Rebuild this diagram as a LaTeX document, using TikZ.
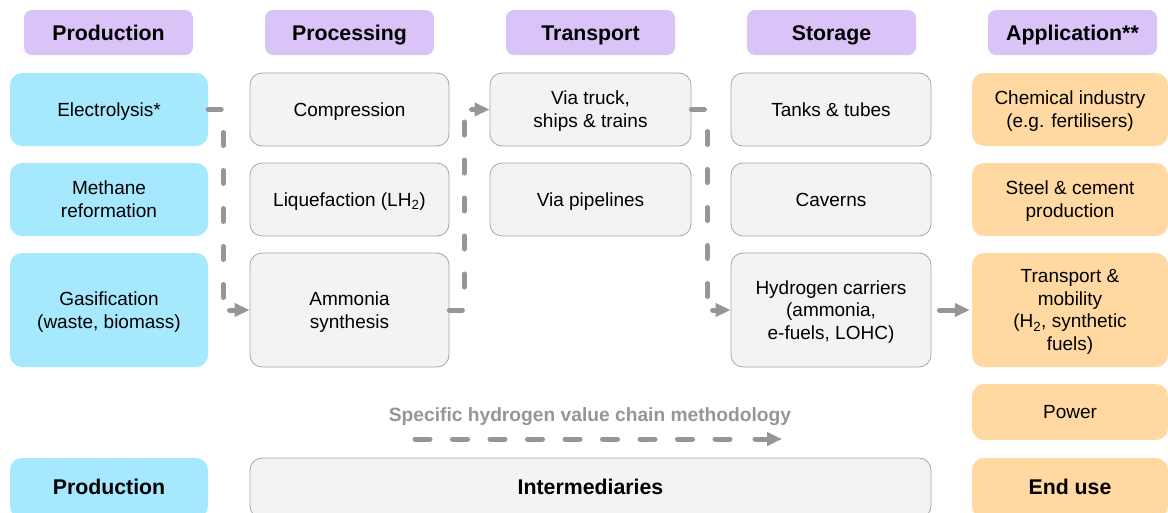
\documentclass[tikz,border=0pt]{standalone}
\usepackage{fontspec}
\setmainfont{Liberation Sans}
\usetikzlibrary{arrows.meta}
\definecolor{purp}{RGB}{217,195,247}
\definecolor{bluef}{RGB}{166,232,253}
\definecolor{orangef}{RGB}{255,217,161}
\definecolor{grayf}{RGB}{243,243,243}
\definecolor{grayd}{RGB}{165,165,165}
\definecolor{conn}{RGB}{150,150,150}
\tikzset{
  basebox/.style={rectangle, rounded corners=12pt, inner sep=0pt, align=center,
    font=\fontsize{19}{22.8}\selectfont, text depth=0pt},
  one/.style={text height=13.6pt, text depth=0pt},
  header/.style={basebox, rounded corners=8pt, fill=purp, minimum width=169pt,
    minimum height=45pt, font=\fontsize{21.3}{25}\selectfont\bfseries,
    text height=15.3pt, text depth=0pt},
  boldtext/.style={font=\fontsize{21.3}{25}\selectfont\bfseries, inner sep=0pt,
    text height=15.3pt, text depth=0pt},
  bluebox/.style={basebox, fill=bluef},
  orangebox/.style={basebox, fill=orangef},
  graybox/.style={basebox, fill=grayf, draw=grayd, line width=0.8pt},
  r1/.style={minimum height=73pt},
  r2/.style={minimum height=73pt},
  r3/.style={minimum height=114pt},
  cA/.style={minimum width=198pt},
  cB/.style={minimum width=199pt},
  cC/.style={minimum width=201pt},
  cD/.style={minimum width=200pt},
  cE/.style={minimum width=196pt},
  flow/.style={draw=conn, line width=5pt, line cap=round,
    dash pattern=on 13pt off 25pt},
  tip/.style={draw=conn, line width=5pt, line cap=round,
    -{Triangle[length=15pt,width=13pt,fill=conn]}},
}
\begin{document}
\begin{tikzpicture}[x=1pt,y=-1pt]
\useasboundingbox (0,0) rectangle (1168,512);
\clip (0,0) rectangle (1168,512);
% headers
\node[header] (hprod) at (108.5,32.5) {Production};
\node[header] (hproc) at (349.5,32.5) {Processing};
\node[header] (htran) at (590.5,32.5) {Transport};
\node[header] (hstor) at (831.5,32.5) {Storage};
\node[header] (happ) at (1072.5,32.5) {Application**};
% production
\node[bluebox,cA,r1,one] (elec) at (109,109.5) {Electrolysis*};
\node[bluebox,cA,r2] (meth) at (109,199.5) {Methane\\reformation};
\node[bluebox,cA,r3] (gasi) at (109,310) {Gasification\\(waste, biomass)};
% processing
\node[graybox,cB,r1,one] (comp) at (349.5,109.5) {Compression};
\node[graybox,cB,r2,one] (liq) at (349.5,199.5) {Liquefaction (LH\textsubscript{2})};
\node[graybox,cB,r3] (amm) at (349.5,310) {Ammonia\\synthesis};
% transport
\node[graybox,cC,r1] (truck) at (590.5,109.5) {Via truck,\\ships \& trains};
\node[graybox,cC,r2,one] (pipe) at (590.5,199.5) {Via pipelines};
% storage
\node[graybox,cD,r1,one] (tank) at (831,109.5) {Tanks \& tubes};
\node[graybox,cD,r2,one] (cav) at (831,199.5) {Caverns};
\node[graybox,cD,r3] (carr) at (831,310) {Hydrogen carriers\\(ammonia,\\e-fuels, LOHC)};
% application
\node[orangebox,cE,r1] (chem) at (1070,109.5) {Chemical industry\\(e.g. fertilisers)};
\node[orangebox,cE,r2] (steel) at (1070,199.5) {Steel \& cement\\production};
\node[orangebox,cE,r3] (mob) at (1070,310) {Transport \&\\mobility\\(H\textsubscript{2}, synthetic\\fuels)};
\node[orangebox,cE,one,minimum height=56pt] (power) at (1070,412) {Power};
% bottom row
\node[bluebox,cA,minimum height=60pt] (bprod) at (109,488) {};
\node[boldtext] (bprodt) at (109,487) {Production};
\node[graybox,minimum width=681pt,minimum height=60pt] (inter) at (590.5,488) {};
\node[boldtext] (intert) at (590.5,487) {Intermediaries};
\node[orangebox,cE,minimum height=60pt] (endu) at (1070,488) {};
\node[boldtext] (endut) at (1070,487) {End use};
% connectors
\draw[flow] (elec.east) -- ++(15,0) |- ([xshift=-24pt]amm.west);
\draw[tip] ([xshift=-20pt]amm.west) -- (amm.west);
\draw[flow] (amm.east) -- ++(15,0) |- ([xshift=-23pt]truck.west);
\draw[tip] ([xshift=-18pt]truck.west) -- (truck.west);
\draw[flow] (truck.east) -- ++(16,0) |- ([xshift=-22pt]carr.west);
\draw[tip] ([xshift=-18pt]carr.west) -- (carr.west);
\draw[tip, shorten <=8pt, shorten >=2pt] (carr.east) -- (mob.west);
% legend
\node[text=conn, font=\fontsize{19.2}{23}\selectfont\bfseries] (leg) at (590,417) {Specific hydrogen value chain methodology};
\coordinate (ls) at (415,439);
\coordinate (le) at (782,439);
\draw[flow, dash pattern=on 15pt off 22.5pt] (ls) -- ([xshift=-35pt]le);
\draw[tip] ([xshift=-27pt]le) -- (le);
\end{tikzpicture}
\end{document}
